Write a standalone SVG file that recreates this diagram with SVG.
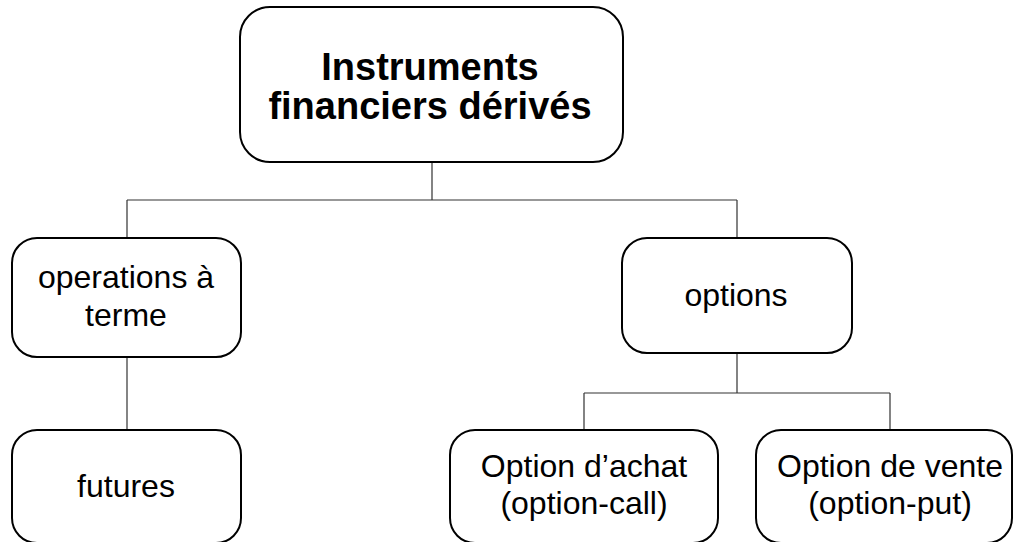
<svg xmlns="http://www.w3.org/2000/svg" width="1013" height="542" viewBox="0 0 1013 542">
<style>
.box{fill:#fff;stroke:#000;stroke-width:2}
.t{font-family:"Liberation Sans",Arial,sans-serif;font-size:32px;fill:#000;text-anchor:middle}
.tb{font-family:"Liberation Sans",Arial,sans-serif;font-size:38px;font-weight:bold;fill:#000;text-anchor:middle}
.c{fill:none;stroke:#333;stroke-width:1.2}
</style>
<rect width="1013" height="542" fill="#fff"/>
<g id="connectors">
<path class="c" d="M432 162V200M127 200H737M127 200V238M737 200V238"/>
<path class="c" d="M127 357V430"/>
<path class="c" d="M737 353V393M584 393H890M584 393V430M890 393V430"/>
</g>
<g id="n-root">
<rect class="box" x="240" y="7" width="383" height="155" rx="30"/>
<text class="tb" x="430" y="80">Instruments</text>
<text class="tb" x="430" y="119">financiers dérivés</text>
</g>
<g id="n-terme">
<rect class="box" x="12" y="238" width="229" height="119" rx="25"/>
<text class="t" x="126" y="288">operations à</text>
<text class="t" x="126" y="326">terme</text>
</g>
<g id="n-options">
<rect class="box" x="622" y="238" width="230" height="115" rx="25"/>
<text class="t" x="736" y="306">options</text>
</g>
<g id="n-futures">
<rect class="box" x="12" y="430" width="229" height="113" rx="25"/>
<text class="t" x="126" y="497">futures</text>
</g>
<g id="n-call">
<rect class="box" x="450" y="430" width="268" height="113" rx="25"/>
<text class="t" x="584" y="477">Option d’achat</text>
<text class="t" x="584" y="514">(option-call)</text>
</g>
<g id="n-put">
<rect class="box" x="756" y="430" width="256" height="113" rx="25"/>
<text class="t" x="890" y="477">Option de vente</text>
<text class="t" x="890" y="514">(option-put)</text>
</g>
</svg>
